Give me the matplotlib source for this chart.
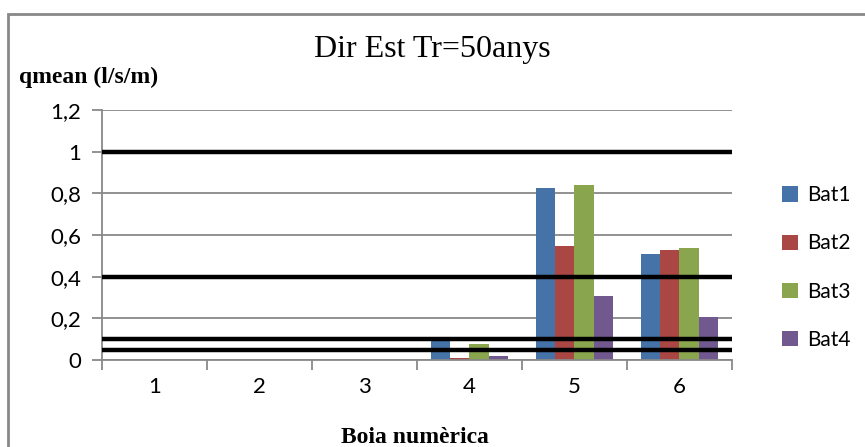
import numpy as np
import matplotlib.pyplot as plt
from matplotlib.patches import Rectangle

# data
boies = ['1', '2', '3', '4', '5', '6']
bat1 = [0, 0, 0, 0.11, 0.827, 0.51]
bat2 = [0, 0, 0, 0.01, 0.548, 0.529]
bat3 = [0, 0, 0, 0.077, 0.841, 0.538]
bat4 = [0, 0, 0, 0.02, 0.308, 0.207]
series = [('Bat1', bat1), ('Bat2', bat2), ('Bat3', bat3), ('Bat4', bat4)]
colors = ['#4572A7', '#AA4643', '#89A54E', '#71588F']
limits = [1, 0.4, 0.1, 0.05]
yticks = [0, 0.2, 0.4, 0.6, 0.8, 1, 1.2]
ytick_labels = ['0', '0,2', '0,4', '0,6', '0,8', '1', '1,2']

fig = plt.figure(figsize=(8.65, 4.47), dpi=100)
ax = fig.add_axes([0.118, 0.1946, 0.728, 0.5594])

x = np.arange(len(boies))
w = 0.183
for k, (name, vals) in enumerate(series):
    ax.bar(x + (k - 1.5) * w, vals, w, color=colors[k], label=name, zorder=2)

for lim in limits:
    ax.axhline(lim, color='black', lw=3.2, zorder=3)

ax.set_xlim(-0.5, len(boies) - 0.5)
ax.set_ylim(0, 1.2)
ax.set_yticks(yticks)
ax.set_yticklabels(ytick_labels)
ax.yaxis.grid(True, color='#898989', lw=1.3, zorder=0)
ax.set_axisbelow(True)

ax.set_xticks(x)
ax.set_xticklabels(boies)
ax.set_xticks(np.arange(-0.5, len(boies)), minor=True)
ax.tick_params(axis='x', which='major', length=0, pad=12, labelsize=16)
ax.tick_params(axis='x', which='minor', length=7, width=1.3, color='#898989')
ax.tick_params(axis='y', length=7, width=1.3, color='#898989', pad=8, labelsize=16)
for lab in ax.get_xticklabels() + ax.get_yticklabels():
    lab.set_family('Lato')

for s in ['top', 'right']:
    ax.spines[s].set_visible(False)
for s in ['left', 'bottom']:
    ax.spines[s].set_color('#898989')
    ax.spines[s].set_linewidth(1.3)

fig.text(0.5, 0.89, 'Dir Est Tr=50anys', ha='center', va='center',
         family='Liberation Serif', fontsize=23)
fig.text(0.022, 0.826, 'qmean (l/s/m)', ha='left', va='center',
         family='Liberation Serif', fontsize=17, weight='bold')
fig.text(0.480, 0.022, 'Boia numèrica', ha='center', va='center',
         family='Liberation Serif', fontsize=17, weight='bold')

leg = ax.legend(loc='center left', bbox_to_anchor=(1.05, 0.37), frameon=False,
                prop={'family': 'Lato', 'size': 15}, handlelength=0.75,
                handleheight=0.75, labelspacing=1.35, handletextpad=0.45)

fig.patches.append(Rectangle((0.009, -0.05), 1.2, 1.018, transform=fig.transFigure,
                             fill=False, edgecolor='#888888', lw=2))

fig.savefig('out.png', dpi=100)
